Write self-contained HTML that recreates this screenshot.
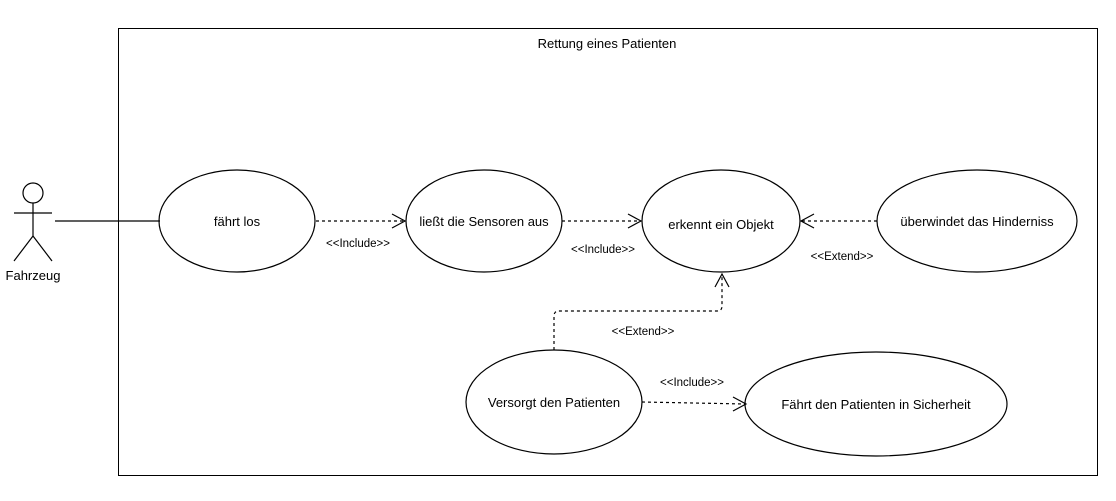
<!DOCTYPE html>
<html><head><meta charset="utf-8"><style>body{margin:0;background:#fff}</style></head><body>
<svg width="1116" height="496" xmlns="http://www.w3.org/2000/svg" font-family="Liberation Sans, Arial, sans-serif">
<rect x="118.5" y="28.5" width="979" height="447" fill="#fff" stroke="#000"/>
<text x="607" y="48" font-size="13" text-anchor="middle">Rettung eines Patienten</text>
<g stroke="#000" fill="none" stroke-width="1.2">
<circle cx="33" cy="193" r="10" fill="#fff"/>
<line x1="33" y1="203" x2="33" y2="236"/>
<line x1="14" y1="213" x2="52" y2="213"/>
<line x1="33" y1="236" x2="14" y2="261"/>
<line x1="33" y1="236" x2="52" y2="261"/>
<line x1="55" y1="221" x2="160" y2="221"/>
<ellipse cx="237" cy="221" rx="78" ry="51"/>
<ellipse cx="484" cy="221" rx="78" ry="51"/>
<ellipse cx="721" cy="221" rx="79" ry="51"/>
<ellipse cx="977" cy="221" rx="100" ry="51"/>
<ellipse cx="554" cy="402" rx="88" ry="52"/>
<ellipse cx="876" cy="404" rx="131" ry="52"/>
<g stroke-dasharray="3,3">
<line x1="316" y1="221" x2="404" y2="221"/>
<line x1="562" y1="221" x2="640" y2="221"/>
<line x1="877" y1="221" x2="802" y2="221"/>
<path d="M554 350 V316 Q554 311 559 311 H717 Q722 311 722 306 V274"/>
<path d="M642 402 L745 404"/>
</g>
<path d="M392 214 L405 221 L392 228"/>
<path d="M628 214 L641 221 L628 228"/>
<path d="M814 214 L801 221 L814 228"/>
<path d="M715 287 L722 274 L729 287"/>
<path d="M733 397 L746 404 L733 411"/>
</g>
<g font-size="13" text-anchor="middle">
<text x="33" y="280">Fahrzeug</text>
<text x="237" y="226">fährt los</text>
<text x="484" y="226">ließt die Sensoren aus</text>
<text x="721" y="229">erkennt ein Objekt</text>
<text x="977" y="226">überwindet das Hinderniss</text>
<text x="554" y="407">Versorgt den Patienten</text>
<text x="876" y="409">Fährt den Patienten in Sicherheit</text>
</g>
<g font-size="11.5" text-anchor="middle">
<text x="358" y="247">&lt;&lt;Include&gt;&gt;</text>
<text x="603" y="253">&lt;&lt;Include&gt;&gt;</text>
<text x="842" y="260">&lt;&lt;Extend&gt;&gt;</text>
<text x="643" y="335">&lt;&lt;Extend&gt;&gt;</text>
<text x="692" y="386">&lt;&lt;Include&gt;&gt;</text>
</g>
</svg>
</body></html>
